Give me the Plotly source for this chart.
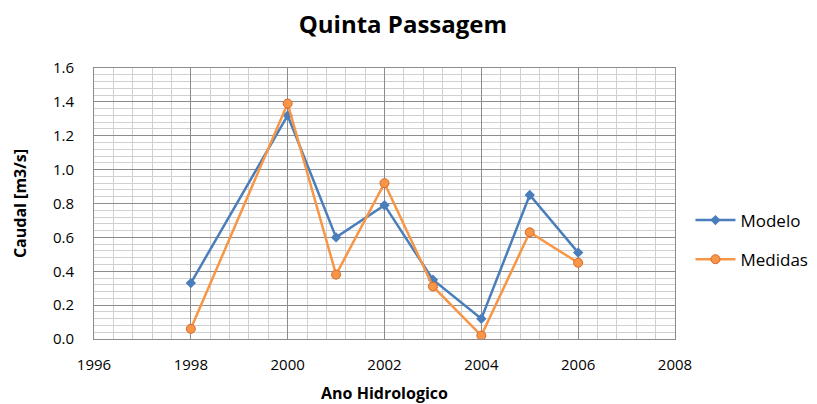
import plotly.graph_objects as go

years = [1998, 2000, 2001, 2002, 2003, 2004, 2005, 2006]
modelo = [0.33, 1.32, 0.60, 0.79, 0.35, 0.12, 0.85, 0.51]
medidas = [0.06, 1.39, 0.38, 0.92, 0.31, 0.02, 0.63, 0.45]

BLUE = "#4A7EBB"
ORANGE = "#F79646"
FONT = "Open Sans"

fig = go.Figure()
fig.add_trace(go.Scatter(
    x=years, y=modelo, name="Modelo", mode="lines+markers", legendgroup="a",
    line=dict(color=BLUE, width=2.5),
    marker=dict(symbol="diamond", size=8, color=BLUE),
))
fig.add_trace(go.Scatter(
    x=years, y=medidas, name="Medidas", mode="lines+markers", legendgroup="b",
    line=dict(color=ORANGE, width=2.5),
    marker=dict(symbol="circle", size=9, color=ORANGE, line=dict(color="#D9662B", width=1)),
))

fig.update_layout(
    width=801, height=396,
    margin=dict(l=86, r=134, t=60, b=65, autoexpand=False),
    paper_bgcolor="white", plot_bgcolor="white",
    font=dict(family=FONT, color="#000000"),
    title=dict(text="<b>Quinta Passagem</b>", x=0.493, xanchor="center", y=0.957,
               yanchor="middle",
               font=dict(size=24, family=FONT, color="#000000")),
    showlegend=True,
    legend=dict(xref="container", yref="container", x=0.852, xanchor="left", y=0.414, yanchor="middle",
                font=dict(size=17, family=FONT, color="#000000"),
                tracegroupgap=14, itemwidth=40),
    xaxis=dict(
        range=[1996, 2008], tickmode="linear", tick0=1996, dtick=2,
        showgrid=True, gridcolor="#8C8C8C", gridwidth=1,
        minor=dict(dtick=0.4, tick0=1996, showgrid=True, gridcolor="#D0D0D0", gridwidth=1),
        showline=True, linecolor="#8C8C8C", linewidth=1, mirror=True,
        zeroline=False, ticks="", ticklabelstandoff=12, automargin=False,
        tickfont=dict(size=15, color="#000000"),
        title=dict(text="<b>Ano Hidrologico</b>", font=dict(size=16), standoff=18),
    ),
    yaxis=dict(
        range=[0, 1.6], tickmode="linear", tick0=0, dtick=0.2, tickformat=".1f",
        showgrid=True, gridcolor="#8C8C8C", gridwidth=1,
        minor=dict(dtick=0.04, tick0=0, showgrid=True, gridcolor="#D0D0D0", gridwidth=1),
        showline=True, linecolor="#8C8C8C", linewidth=1, mirror=True,
        zeroline=False, ticks="", ticklabelstandoff=16, automargin=False,
        tickfont=dict(size=15, color="#000000"),
        title=dict(text="<b>Caudal [m3/s]</b>", font=dict(size=16), standoff=22),
    ),
)

fig.write_html("out.html")
